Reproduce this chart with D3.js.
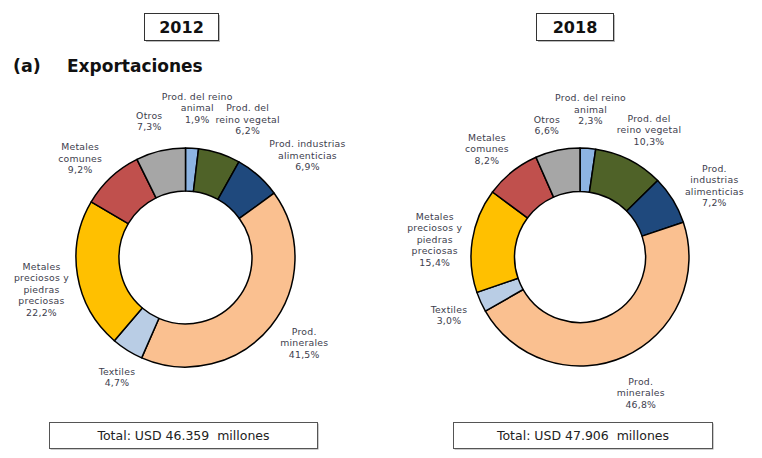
<!DOCTYPE html>
<html>
<head>
<meta charset="utf-8">
<script src="https://cdn.jsdelivr.net/npm/d3@7"></script>
<style>
  html, body { margin: 0; padding: 0; background: #fff; }
  svg { display: block; font-family: "DejaVu Sans", Verdana, sans-serif; }
</style>
</head>
<body>
<svg id="chart" width="762" height="458"></svg>
<script>
// Composición de exportaciones por sección — 2012 vs 2018 (donas)

const sectores = [
  "animal", "vegetal", "alimenticias", "minerales",
  "textiles", "preciosos", "comunes", "otros",
];
const colores = ["#8DB4E2", "#4F6228", "#1F497D", "#FAC090", "#B9CDE5", "#FFC000", "#C0504D", "#A6A6A6"];

const valores2012 = [1.9, 6.2, 6.9, 41.5, 4.7, 22.2, 9.2, 7.3];
const valores2018 = [2.3, 10.3, 7.2, 46.8, 3.0, 15.4, 8.2, 6.6];

// Etiquetas con sus cortes de línea tal como aparecen en cada gráfico
const etiquetas2012 = [
  ["Prod. del reino", "animal"],
  ["Prod. del", "reino vegetal"],
  ["Prod. industrias", "alimenticias"],
  ["Prod.", "minerales"],
  ["Textiles"],
  ["Metales", "preciosos y", "piedras", "preciosas"],
  ["Metales", "comunes"],
  ["Otros"],
];
const etiquetas2018 = [
  ["Prod. del reino", "animal"],
  ["Prod. del", "reino vegetal"],
  ["Prod.", "industrias", "alimenticias"],
  ["Prod.", "minerales"],
  ["Textiles"],
  ["Metales", "preciosos y", "piedras", "preciosas"],
  ["Metales", "comunes"],
  ["Otros"],
];

const anios = ["2012", "2018"];
const totales = ["Total: USD 46.359  millones", "Total: USD 47.906  millones"];

// Ajustes manuales de las etiquetas respecto al centroide (evitan solapes, como en el original)
const ajuste2012 = [[3, -4], [17, 1], [25, 7], [5, -6], [9, -4], [0, 8], [-6, 8], [-3, 6]];
const ajuste2018 = [[0, -2], [3, 3], [10, 5], [1, 3], [2, -2], [-1, 5], [-2, 6], [-3, 11]];

const svg = d3.select("#chart");
const fmt = (v) => v.toFixed(1).replace(".", ",") + "%";

// Subtítulo de la sección
svg.append("text").attr("x", 13).attr("y", 72)
  .style("font-size", "17.5px").style("font-weight", "bold").style("fill", "#111")
  .text("(a)");
svg.append("text").attr("x", 67).attr("y", 72)
  .style("font-size", "17px").style("font-weight", "bold").style("fill", "#111")
  .text("Exportaciones");

function dona(cfg) {
  const { cx, cy, rOut, rIn, valores, etiquetas, ajustes, anio, total, titulo, caja } = cfg;

  // Caja del año
  svg.append("rect")
    .attr("x", titulo.x + 1.5).attr("y", titulo.y + 1.5).attr("width", titulo.w).attr("height", titulo.h)
    .attr("fill", "#bbb");
  svg.append("rect")
    .attr("x", titulo.x).attr("y", titulo.y).attr("width", titulo.w).attr("height", titulo.h)
    .attr("fill", "#fff").attr("stroke", "#333").attr("stroke-width", 1);
  svg.append("text")
    .attr("x", titulo.x + titulo.w / 2).attr("y", titulo.y + titulo.h / 2 + 6)
    .attr("text-anchor", "middle")
    .style("font-size", "16px").style("font-weight", "bold").style("fill", "#111")
    .text(anio);

  const g = svg.append("g").attr("transform", `translate(${cx},${cy})`);

  const pie = d3.pie().sort(null).value((d) => d.v);
  const datos = sectores.map((s, i) => ({ s, v: valores[i], color: colores[i], lineas: etiquetas[i] }));
  const arcos = pie(datos);

  const arc = d3.arc().innerRadius(rIn).outerRadius(rOut);
  g.selectAll("path").data(arcos).join("path")
    .attr("d", arc)
    .attr("fill", (d) => d.data.color)
    .attr("stroke", "#000").attr("stroke-width", 1.5).attr("stroke-linejoin", "round");

  // Etiquetas: bloque centrado sobre la dirección del centroide de cada sector
  const arcEtiq = d3.arc().innerRadius(146).outerRadius(146);
  const lh = 11.5;
  arcos.forEach((d, k) => {
    const [x0, y] = arcEtiq.centroid(d);
    const x = x0 + ajustes[k][0];
    const lineas = [...d.data.lineas, fmt(d.data.v)];
    const y0 = y + ajustes[k][1] - ((lineas.length - 1) * lh) / 2;
    const t = g.append("text")
      .attr("text-anchor", "middle")
      .style("font-size", "9.3px").style("fill", "#3d3d4d").style("letter-spacing", "0.25px");
    lineas.forEach((l, i) => {
      t.append("tspan").attr("x", x).attr("y", y0 + i * lh).attr("dy", "0.35em").text(l);
    });
  });

  // Caja del total
  svg.append("rect")
    .attr("x", caja.x + 1).attr("y", caja.y + 1).attr("width", caja.w).attr("height", caja.h)
    .attr("fill", "#999");
  svg.append("rect")
    .attr("x", caja.x).attr("y", caja.y).attr("width", caja.w).attr("height", caja.h)
    .attr("fill", "#fff").attr("stroke", "#555").attr("stroke-width", 1);
  svg.append("text")
    .attr("x", caja.x + caja.w / 2).attr("y", caja.y + caja.h / 2 + 4.5)
    .attr("text-anchor", "middle")
    .style("font-size", "12.5px").style("fill", "#222")
    .style("white-space", "pre")
    .text(total);
}

dona({
  cx: 185.5, cy: 257.5, rOut: 109.5, rIn: 66.5,
  valores: valores2012, etiquetas: etiquetas2012, ajustes: ajuste2012, anio: anios[0], total: totales[0],
  titulo: { x: 144.5, y: 13.5, w: 74, h: 27 },
  caja: { x: 49.5, y: 422.5, w: 268, h: 26 },
});
dona({
  cx: 580, cy: 257, rOut: 109, rIn: 65.5,
  valores: valores2018, etiquetas: etiquetas2018, ajustes: ajuste2018, anio: anios[1], total: totales[1],
  titulo: { x: 536.5, y: 13.5, w: 77, h: 27 },
  caja: { x: 453.5, y: 422.5, w: 259, h: 26 },
});
</script>
</body>
</html>
